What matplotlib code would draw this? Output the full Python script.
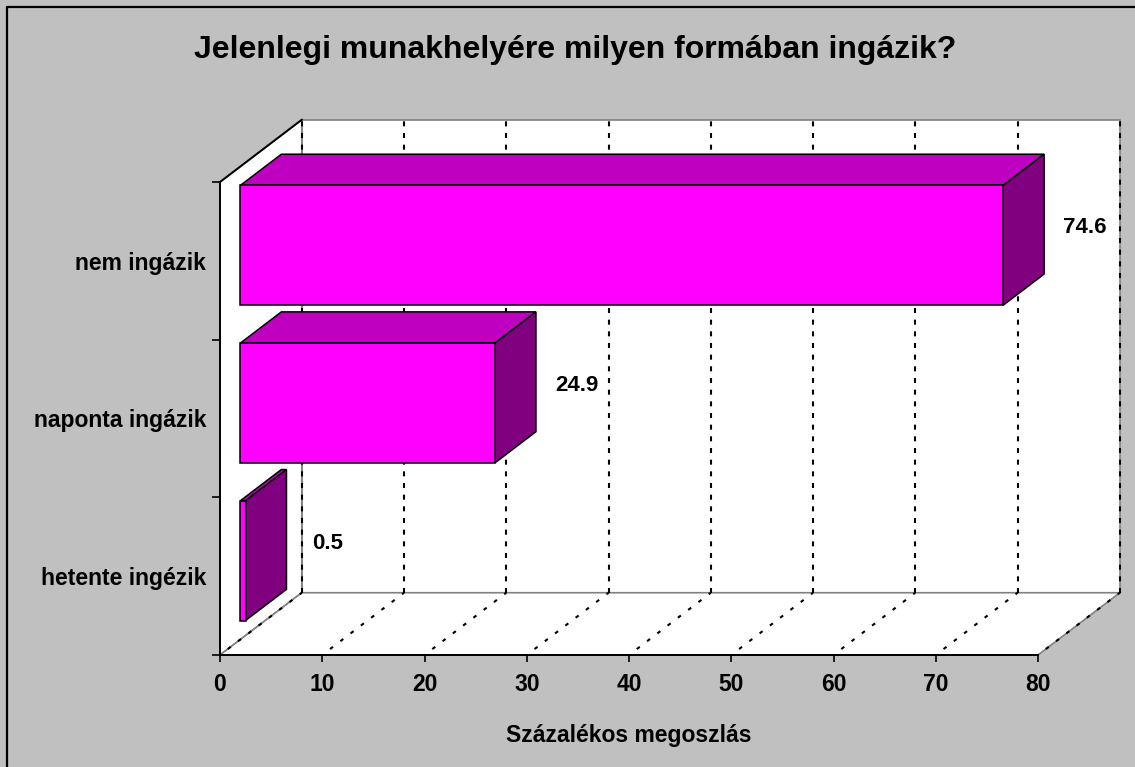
"""
Excel-style 3D horizontal bar chart: commuting form at current workplace.
"""
import matplotlib
matplotlib.use('Agg')
import matplotlib.pyplot as plt
from matplotlib.patches import Polygon
from matplotlib.lines import Line2D
import numpy as np

# ---- data -------------------------------------------------------------
title = 'Jelenlegi munakhelyére milyen formában ingázik?'
categories = ['nem ingázik', 'naponta ingázik', 'hetente ingézik']
values = [74.6, 24.9, 0.5]
x_ticks = [0, 10, 20, 30, 40, 50, 60, 70, 80]
x_label = 'Százalékos megoszlás'

# ---- style ------------------------------------------------------------
FONT = 'Liberation Sans'
BG = '#C0C0C0'
EDGE_GRAY = '#808080'
FRONT = '#FF00FF'
TOP = '#C000C0'
SIDE = '#800080'
DX, DY = 8.0, 0.395        # depth of the 3D box, in data units
BAR_H = 0.76               # bar thickness, category units
D0, D1 = 0.25, 0.75        # bar depth (fraction of box depth)
WALL_DASH = (0, (2.4, 3.2))
FLOOR_DOT = (1.5, (1.8, 4.4))

plt.rcParams['font.family'] = [FONT, 'DejaVu Sans']
plt.rcParams['font.weight'] = 'bold'


def main():
    fig = plt.figure(figsize=(11.35, 7.67), dpi=100, facecolor=BG)
    ax = fig.add_axes([220 / 1135, 112 / 767, 818 / 1135, 473 / 767])
    ax.set_facecolor('none')

    n = len(categories)
    ypos = np.arange(n)[::-1]
    xmax = x_ticks[-1]
    y0, y1 = -0.5, n - 0.5
    ax.set_xlim(0, xmax)
    ax.set_ylim(y0, y1)

    # walls and floor
    walls = [
        [(DX, y0 + DY), (xmax + DX, y0 + DY), (xmax + DX, y1 + DY), (DX, y1 + DY)],
        [(0, y0), (DX, y0 + DY), (DX, y1 + DY), (0, y1)],
        [(0, y0), (xmax, y0), (xmax + DX, y0 + DY), (DX, y0 + DY)],
    ]
    for w in walls:
        ax.add_patch(Polygon(w, closed=True, facecolor='white', edgecolor=EDGE_GRAY,
                             lw=1.2, zorder=0, clip_on=False))
    ax.plot([0, DX], [y1, y1 + DY], color='black', lw=1.4, zorder=1, clip_on=False)

    # gridlines: dashed on back wall, dotted on floor
    for t in x_ticks:
        ax.plot([t + DX, t + DX], [y0 + DY, y1 + DY], color='black', lw=1.5,
                linestyle=WALL_DASH, zorder=1, clip_on=False)
        ax.plot([t, t + DX], [y0, y0 + DY], color='black', lw=1.5,
                linestyle=FLOOR_DOT, zorder=1, clip_on=False)

    # 3D bars
    for i, (y, v) in enumerate(zip(ypos, values)):
        bl, bt = y - BAR_H / 2, y + BAR_H / 2
        fx, fy = D0 * DX, D0 * DY
        bx, by = D1 * DX, D1 * DY
        front = [(fx, bl + fy), (v + fx, bl + fy), (v + fx, bt + fy), (fx, bt + fy)]
        top = [(fx, bt + fy), (v + fx, bt + fy), (v + bx, bt + by), (bx, bt + by)]
        side = [(v + fx, bl + fy), (v + bx, bl + by), (v + bx, bt + by), (v + fx, bt + fy)]
        z = 3 + i
        for poly, col in ((top, TOP), (side, SIDE), (front, FRONT)):
            ax.add_patch(Polygon(poly, closed=True, facecolor=col, edgecolor='black',
                                 lw=1.1, zorder=z, clip_on=False))
        ax.text(v + fx + DX, y + 0.53 * DY, f'{v:.1f}', ha='center', va='center',
                fontsize=16, fontweight='bold', zorder=10)

    # axes, ticks, labels
    for s in ('top', 'right'):
        ax.spines[s].set_visible(False)
    for s in ('left', 'bottom'):
        ax.spines[s].set_linewidth(1.4)
        ax.spines[s].set_zorder(2)

    ax.set_xticks(x_ticks)
    ax.set_xticklabels([str(t) for t in x_ticks])
    ax.tick_params(axis='x', length=5, width=1.2, direction='out', pad=8,
                   labelsize=16.5)
    ax.set_yticks(ypos)
    ax.set_yticklabels(categories)
    ax.set_yticks(np.arange(n + 1) - 0.5, minor=True)
    ax.tick_params(axis='y', which='major', length=0, pad=10, labelsize=16.5)
    ax.tick_params(axis='y', which='minor', length=5.5, width=1.2, direction='out')
    for lab in ax.get_xticklabels() + ax.get_yticklabels():
        lab.set_fontweight('bold')

    ax.set_xlabel(x_label, fontsize=16.5, fontweight='bold', labelpad=20)

    fig.text(575 / 1135, 1 - 50 / 767, title, ha='center', va='center',
             fontsize=23, fontweight='bold')

    # chart-area border (right/bottom edges fall outside the image)
    bx0, by1 = 6.5 / 1135, 1 - 6.5 / 767
    fig.add_artist(Line2D([bx0, bx0, 1.01], [-0.01, by1, by1],
                          transform=fig.transFigure, color='black', lw=1.6))

    fig.savefig('out.png', dpi=100, facecolor=BG)


if __name__ == '__main__':
    main()
